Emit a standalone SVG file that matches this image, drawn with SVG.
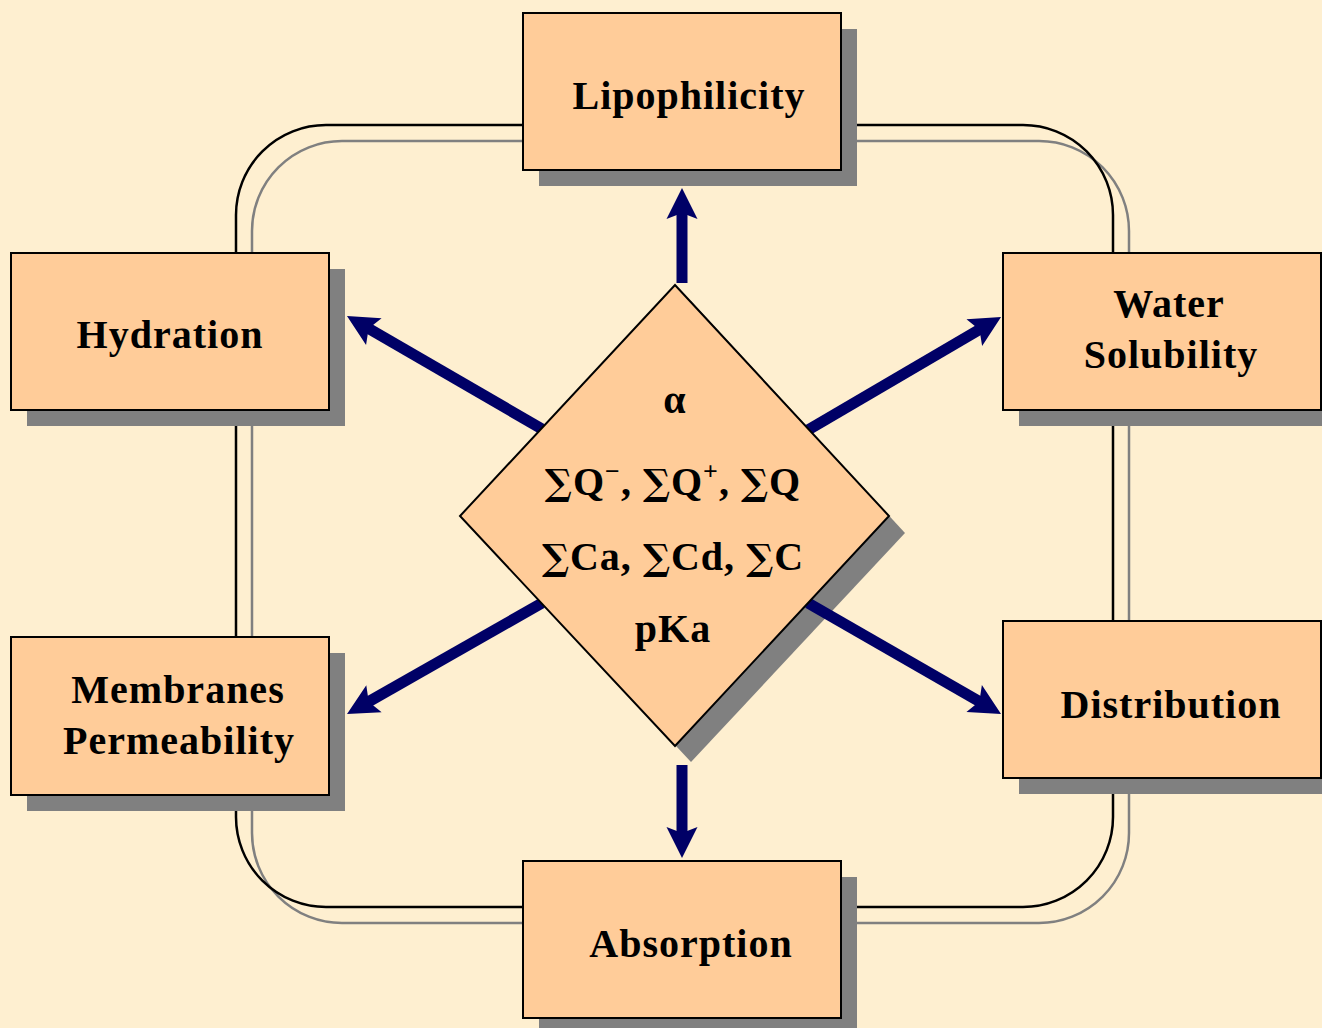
<svg xmlns="http://www.w3.org/2000/svg" width="1322" height="1028" viewBox="0 0 1322 1028">
<style>
.box{fill:#FFCC99;stroke:#000;stroke-width:2}
.shadow{fill:#808080}
.lbl{font-family:"Liberation Serif","Times New Roman",serif;font-weight:bold;font-size:40px;letter-spacing:1px;fill:#000;text-anchor:middle}
.sig{font-family:"DejaVu Serif",serif;font-weight:bold;font-size:36px}
.arr{stroke:#000066;stroke-width:11;fill:none}
</style>
<defs>
<marker id="head" markerUnits="userSpaceOnUse" markerWidth="40" markerHeight="40" viewBox="-15 -20 40 40" refX="0" refY="0" orient="auto">
<path d="M20,0 L-11,-15.5 L-5,0 L-11,15.5 Z" fill="#000066"/>
</marker>
</defs>
<rect width="1322" height="1028" fill="#FEEFD0"/>
<g id="frame" fill="none">
<rect x="252" y="141" width="877" height="782" rx="90" ry="90" stroke="#808080" stroke-width="2.5"/>
<rect x="236" y="125" width="877" height="782" rx="90" ry="90" stroke="#000" stroke-width="2.5"/>
</g>
<g id="center-shadow">
<polygon class="shadow" points="691,301 905,533 691,762 476,533"/>
</g>
<g id="connectors">
<line class="arr" x1="682" y1="283" x2="682" y2="208" marker-end="url(#head)"/>
<line class="arr" x1="682" y1="765" x2="682" y2="838" marker-end="url(#head)"/>
<line class="arr" x1="542" y1="429" x2="364.3" y2="326.1" marker-end="url(#head)"/>
<line class="arr" x1="808" y1="430" x2="983.8" y2="327.1" marker-end="url(#head)"/>
<line class="arr" x1="542" y1="603" x2="364.4" y2="704.1" marker-end="url(#head)"/>
<line class="arr" x1="808" y1="603" x2="983.7" y2="704" marker-end="url(#head)"/>
</g>
<g id="center">
<polygon class="box" points="675,285 889,516 675,746 460,516"/>
<text class="lbl" x="675" y="413">α</text>
<text class="lbl" x="673" y="495"><tspan class="sig">∑</tspan>Q<tspan font-size="26" dy="-15">−</tspan><tspan dy="15">, </tspan><tspan class="sig">∑</tspan>Q<tspan font-size="26" dy="-15">+</tspan><tspan dy="15">, </tspan><tspan class="sig">∑</tspan>Q</text>
<text class="lbl" x="673" y="570"><tspan class="sig">∑</tspan>Ca, <tspan class="sig">∑</tspan>Cd, <tspan class="sig">∑</tspan>C</text>
<text class="lbl" x="673" y="642">pKa</text>
</g>
<g id="lipophilicity">
<rect class="shadow" x="539" y="29" width="318" height="157"/>
<rect class="box" x="523" y="13" width="318" height="157"/>
<text class="lbl" x="689" y="109">Lipophilicity</text>
</g>
<g id="hydration">
<rect class="shadow" x="27" y="269" width="318" height="157"/>
<rect class="box" x="11" y="253" width="318" height="157"/>
<text class="lbl" x="170" y="348">Hydration</text>
</g>
<g id="water-solubility">
<rect class="shadow" x="1019" y="269" width="318" height="157"/>
<rect class="box" x="1003" y="253" width="318" height="157"/>
<text class="lbl" x="1169" y="317">Water</text>
<text class="lbl" x="1171" y="368">Solubility</text>
</g>
<g id="membranes-permeability">
<rect class="shadow" x="27" y="653" width="318" height="158"/>
<rect class="box" x="11" y="637" width="318" height="158"/>
<text class="lbl" x="178" y="703">Membranes</text>
<text class="lbl" x="179" y="754">Permeability</text>
</g>
<g id="distribution">
<rect class="shadow" x="1019" y="637" width="318" height="157"/>
<rect class="box" x="1003" y="621" width="318" height="157"/>
<text class="lbl" x="1171" y="718">Distribution</text>
</g>
<g id="absorption">
<rect class="shadow" x="539" y="877" width="318" height="157"/>
<rect class="box" x="523" y="861" width="318" height="157"/>
<text class="lbl" x="691" y="957">Absorption</text>
</g>
</svg>
